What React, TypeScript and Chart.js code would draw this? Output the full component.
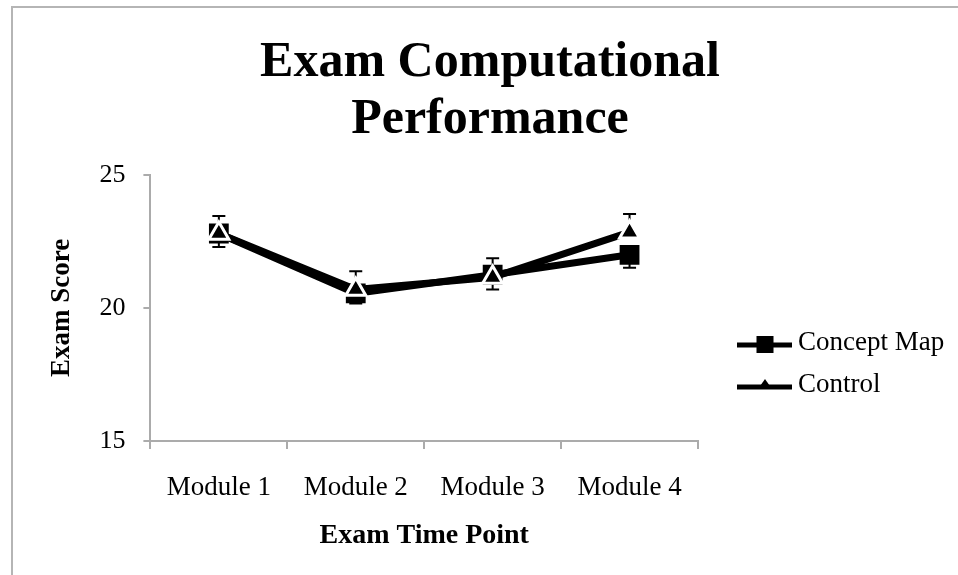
import { useEffect, useRef } from 'react';
import { Chart, registerables, layouts } from 'chart.js';

Chart.register(...registerables);

const categories = ['Module 1', 'Module 2', 'Module 3', 'Module 4'];
const conceptMap = [22.8, 20.55, 21.25, 22.0];
const conceptMapMinusErr = [0.51, 0.38, 0.55, 0.49];
const control = [22.8, 20.7, 21.15, 22.85];
const controlPlusErr = [0.66, 0.68, 0.72, 0.68];
const yTicks = [15, 20, 25];

const SERIF = "'Liberation Serif', 'Times New Roman', serif";
const AXIS_GRAY = '#ababab';

const errorBarPlugin = {
  id: 'errorBars',
  beforeDatasetsDraw(chart: any) {
    const ctx = chart.ctx;
    const y = chart.scales.y;
    const sets = [
      { idx: 0, err: conceptMapMinusErr, dir: -1 },
      { idx: 1, err: controlPlusErr, dir: 1 },
    ];
    ctx.save();
    ctx.strokeStyle = '#000';
    ctx.lineWidth = 2;
    sets.forEach((s) => {
      const meta = chart.getDatasetMeta(s.idx);
      const data = chart.data.datasets[s.idx].data as number[];
      meta.data.forEach((pt: any, i: number) => {
        const v = data[i];
        const y0 = y.getPixelForValue(v);
        const y1 = y.getPixelForValue(v + s.dir * s.err[i]);
        ctx.beginPath();
        ctx.moveTo(pt.x, y0);
        ctx.lineTo(pt.x, y1);
        ctx.moveTo(pt.x - 6.5, y1);
        ctx.lineTo(pt.x + 6.5, y1);
        ctx.stroke();
      });
    });
    ctx.restore();
  },
};

// Reserves the space on the right of the plot for the legend (like Chart.js' own legend box)
const LEGEND_SPACE = 260;
const rightLegendBoxPlugin = {
  id: 'rightLegendBox',
  start(chart: any) {
    const box: any = {
      position: 'right',
      weight: 1000,
      fullSize: false,
      options: {},
      left: 0,
      top: 0,
      right: 0,
      bottom: 0,
      width: 0,
      height: 0,
      isHorizontal() {
        return false;
      },
      update(_maxWidth: number, maxHeight: number) {
        this.width = LEGEND_SPACE;
        this.height = maxHeight;
      },
      draw() {},
    };
    layouts.addBox(chart, box);
  },
};

const LEGEND_X = 737;
const LEGEND_Y = [345, 387];

const sideLegendPlugin = {
  id: 'sideLegend',
  afterDraw(chart: any) {
    const ctx = chart.ctx;
    chart.data.datasets.forEach((ds: any, i: number) => {
      const y = LEGEND_Y[i];
      const cx = LEGEND_X + 28;
      ctx.save();
      ctx.strokeStyle = '#000';
      ctx.lineWidth = 5;
      ctx.beginPath();
      ctx.moveTo(LEGEND_X, y);
      ctx.lineTo(LEGEND_X + 55, y);
      ctx.stroke();
      ctx.fillStyle = '#000';
      if (ds.pointStyle === 'rect') {
        ctx.fillRect(cx - 8.5, y - 9, 17, 17);
      } else {
        ctx.beginPath();
        ctx.moveTo(cx, y - 8);
        ctx.lineTo(cx + 7, y + 2);
        ctx.lineTo(cx - 7, y + 2);
        ctx.closePath();
        ctx.fill();
      }
      ctx.font = `27px ${SERIF}`;
      ctx.textBaseline = 'middle';
      ctx.textAlign = 'left';
      ctx.fillText(ds.label, LEGEND_X + 61, y - 2);
      ctx.restore();
    });
  },
};

export default function App() {
  const ref = useRef<HTMLCanvasElement | null>(null);

  useEffect(() => {
    if (!ref.current) return;
    const chart = new Chart(ref.current, {
      type: 'line',
      data: {
        labels: categories,
        datasets: [
          {
            label: 'Concept Map',
            data: conceptMap,
            borderColor: '#000',
            backgroundColor: '#000',
            borderWidth: 7,
            pointStyle: 'rect',
            pointRadius: 14,
            pointBackgroundColor: '#000',
            pointBorderColor: '#000',
            pointBorderWidth: 0,
            tension: 0,
            order: 1,
          },
          {
            label: 'Control',
            data: control,
            borderColor: '#000',
            backgroundColor: '#000',
            borderWidth: 7,
            pointStyle: 'triangle',
            pointRadius: 11.5,
            pointBackgroundColor: '#000',
            pointBorderColor: '#fff',
            pointBorderWidth: 3,
            tension: 0,
            order: 0,
          },
        ],
      },
      options: {
        animation: false,
        responsive: false,
        maintainAspectRatio: false,
        events: [],
        layout: { padding: { left: 22, right: 0, top: 0, bottom: 0 } },
        plugins: {
          legend: { display: false },
          tooltip: { enabled: false },
          title: {
            display: true,
            text: ['Exam Computational', 'Performance'],
            color: '#000',
            font: { family: SERIF, size: 50, weight: 'bold', lineHeight: 1.15 },
            padding: { top: 34, bottom: 26 },
          },
        },
        scales: {
          x: {
            type: 'category',
            offset: true,
            grid: {
              offset: true,
              drawOnChartArea: false,
              drawTicks: true,
              tickLength: 8,
              color: AXIS_GRAY,
              lineWidth: 2,
            },
            border: { color: AXIS_GRAY, width: 2 },
            ticks: {
              color: '#000',
              font: { family: SERIF, size: 27, lineHeight: 1.2 },
              padding: 23,
              maxRotation: 0,
            },
            title: {
              display: true,
              text: 'Exam Time Point',
              color: '#000',
              font: { family: SERIF, size: 28, weight: 'bold', lineHeight: 1.2 },
              padding: { top: -8, bottom: 22 },
            },
          },
          y: {
            min: 15,
            max: 25,
            afterBuildTicks: (axis: any) => {
              axis.ticks = yTicks.map((v) => ({ value: v }));
            },
            grid: {
              drawOnChartArea: false,
              drawTicks: true,
              tickLength: 7,
              color: AXIS_GRAY,
              lineWidth: 2,
            },
            border: { color: AXIS_GRAY, width: 2 },
            ticks: {
              color: '#000',
              font: { family: SERIF, size: 26, lineHeight: 1.2 },
              padding: 18,
            },
            title: {
              display: true,
              text: 'Exam Score',
              color: '#000',
              font: { family: SERIF, size: 27, weight: 'bold', lineHeight: 1.2 },
              padding: { top: 24, bottom: 3 },
            },
          },
        },
      },
      plugins: [rightLegendBoxPlugin, errorBarPlugin, sideLegendPlugin],
    });
    return () => chart.destroy();
  }, []);

  return (
    <div style={{ position: 'fixed', left: 0, top: 0, width: 958, height: 575, background: '#fff' }}>
      <div
        style={{
          position: 'absolute',
          left: 11,
          top: 6,
          right: 0,
          bottom: 0,
          borderTop: '2px solid #b5b5b5',
          borderLeft: '2px solid #b5b5b5',
        }}
      />
      <canvas ref={ref} width={958} height={575} style={{ position: 'absolute', left: 0, top: 0, width: 958, height: 575 }} />
    </div>
  );
}
